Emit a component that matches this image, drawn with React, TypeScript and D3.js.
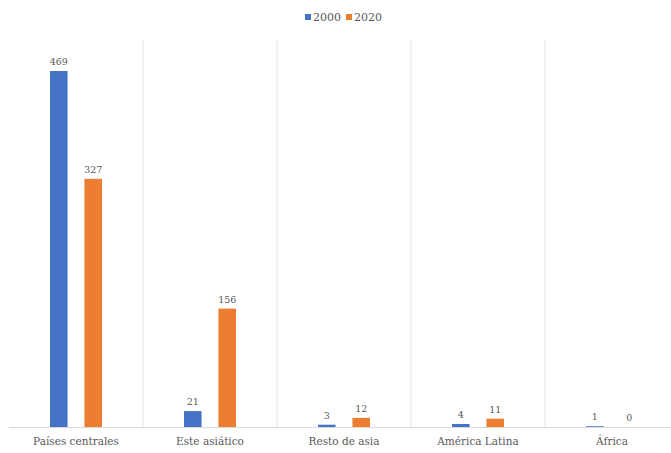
import React from "react";
import * as d3 from "d3";

const categories = ["Países centrales", "Este asiático", "Resto de asia", "América Latina", "África"];
const seriesNames = ["2000", "2020"];
const values2000 = [469, 21, 3, 4, 1];
const values2020 = [327, 156, 12, 11, 0];
const colors = ["#4472C4", "#ED7D31"];

export default function App() {
  const W = 671, H = 453;
  const x = d3.scaleBand<string>().domain(categories).range([9, 679]).paddingInner(0).paddingOuter(0);
  const sub = d3.scaleBand<string>().domain(seriesNames).range([41, 93]).paddingInner(0.49).paddingOuter(0);
  const y = d3.scaleLinear().domain([0, 500]).range([427, 47.5]);
  const series = [values2000, values2020];
  const font = "'DejaVu Serif', serif";
  return (
    <svg width={W} height={H} style={{ position: "absolute", left: 0, top: 0, background: "#fff", fontFamily: font }}>
      {categories.slice(1).map((c) => (
        <line key={c} x1={x(c)!} x2={x(c)!} y1={40} y2={427} stroke="#e3e3e3" strokeWidth={1} />
      ))}
      <line x1={9} x2={671} y1={427.5} y2={427.5} stroke="#d9d9d9" strokeWidth={1} />
      {categories.map((c, i) =>
        series.map((vals, s) => {
          const bx = x(c)! + sub(seriesNames[s])!;
          const v = vals[i];
          const top = y(v);
          return (
            <g key={c + s}>
              <rect x={bx} y={top} width={sub.bandwidth()} height={427 - top} fill={colors[s]} />
              <text x={bx + sub.bandwidth() / 2} y={top - 6} textAnchor="middle" fontSize={9.5} fill="#595959">
                {v}
              </text>
            </g>
          );
        })
      )}
      {categories.map((c) => (
        <text key={c} x={x(c)! + x.bandwidth() / 2} y={445} textAnchor="middle" fontSize={10.5} fill="#595959">
          {c}
        </text>
      ))}
      <g>
        {seriesNames.map((s, i) => {
          const lx = 305 + i * 41;
          return (
            <g key={s}>
              <rect x={lx} y={14} width={6} height={6} fill={colors[i]} />
              <text x={lx + 8} y={21} fontSize={11} fill="#595959">{s}</text>
            </g>
          );
        })}
      </g>
    </svg>
  );
}
